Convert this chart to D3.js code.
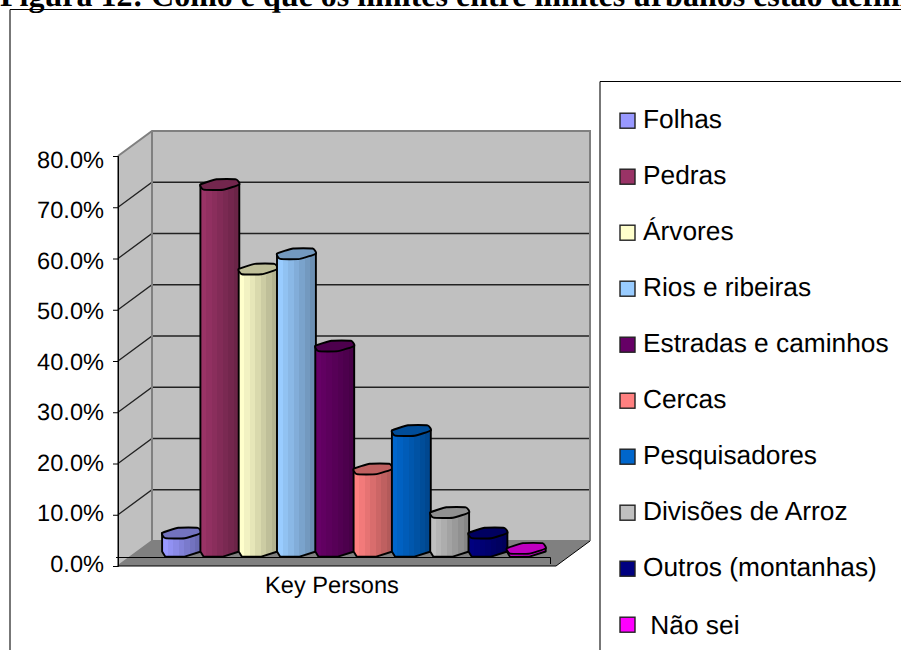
<!DOCTYPE html>
<html><head><meta charset="utf-8">
<script src="https://cdn.jsdelivr.net/npm/d3@7/dist/d3.min.js"></script>
<style>html,body{margin:0;padding:0;background:#fff;overflow:hidden}svg{display:block}
text{font-family:"Liberation Sans",Arial,sans-serif;fill:#000;text-rendering:geometricPrecision}</style></head><body>
<svg id="c" width="901" height="650"></svg>
<script>
const categories=["Folhas","Pedras","Árvores","Rios e ribeiras","Estradas e caminhos","Cercas","Pesquisadores","Divisões de Arroz","Outros (montanhas)"," Não sei"];
const values=[4,72,55.5,58.5,40.5,16.5,24,8,4,1];
const colors=["#9999FF","#993366","#FFFFCC","#99CCFF","#660066","#FF8080","#0066CC","#C0C0C0","#000080","#FF00FF"];
const yTicks=[0,10,20,30,40,50,60,70,80];
const axisLabel="Key Persons";
const title="Figura 12: Como é que os limites entre limites urbanos estão definidos";

const svg=d3.select("#c");
const defs=svg.append("defs");
const front={x0:118,x1:556,y0:566,y1:156}, depth={dx:34,dy:-25};
const y=d3.scaleLinear().domain([0,80]).range([front.y0,front.y1]);
const yLabel=d3.scaleLinear().domain([0,80]).range([564,160]);
const x=d3.scaleBand().domain(categories).range([162,545]).padding(0);
const line=d3.line();
const roundLine=d3.line().curve(d3.curveCardinalClosed.tension(0.55));

svg.append("text").attr("x",0).attr("y",6).attr("font-size",32).attr("font-weight","bold")
  .style("font-family","'Liberation Serif',serif").text(title);
// chart frame
svg.append("path").attr("d","M10,650V9.5H901").attr("fill","none").attr("stroke","#000").attr("stroke-width",1);
svg.append("path").attr("d","M10,650V10").attr("fill","none").attr("stroke","#777").attr("stroke-width",2);

// floor
svg.append("path").attr("d",line([[front.x0,front.y0],[front.x1,front.y0],[front.x1+depth.dx,front.y0+depth.dy],[front.x0+depth.dx,front.y0+depth.dy]])+"Z").attr("fill","#808080");
// walls
const bt=front.y1+depth.dy, bb=front.y0+depth.dy, bl=front.x0+depth.dx, br=front.x1+depth.dx;
svg.append("path").attr("d",line([[front.x0,front.y0],[bl,bb],[bl,bt],[front.x0,front.y1]])+"Z").attr("fill","#C0C0C0");
svg.append("rect").attr("x",bl).attr("y",bt).attr("width",br-bl).attr("height",bb-bt).attr("fill","#C0C0C0");
// gridlines
yTicks.slice(1,-1).forEach(t=>{
  svg.append("path").attr("d",line([[front.x0,y(t)],[bl,y(t)+depth.dy],[br,y(t)+depth.dy]])).attr("fill","none").attr("stroke","#222").attr("stroke-width",1.3);
});
// wall edges
svg.append("path").attr("d",line([[front.x0,front.y1],[bl,bt],[br,bt],[br,bb]])).attr("fill","none").attr("stroke","#808080").attr("stroke-width",2);
svg.append("path").attr("d",line([[bl,bt],[bl,bb],[front.x0,front.y0]])).attr("fill","none").attr("stroke","#808080").attr("stroke-width",2);
svg.append("path").attr("d",line([[bl,bb],[br,bb]])).attr("fill","none").attr("stroke","#808080").attr("stroke-width",2);
// axis
svg.append("path").attr("d",line([[front.x0,front.y1],[front.x0,front.y0],[front.x1,front.y0],[front.x1+depth.dx,front.y0+depth.dy]])).attr("fill","none").attr("stroke","#000").attr("stroke-width",1);
// base plate outline
svg.append("path").attr("d",line([[front.x0-2,557.5],[550.5,557.5],[550.5,564]])).attr("fill","none").attr("stroke","#000").attr("stroke-width",1);
const yAxis=d3.axisLeft(y).tickValues(yTicks).tickFormat(d=>d.toFixed(1)+"%").tickSize(5).tickPadding(9);
const ag=svg.append("g").attr("transform",`translate(${front.x0},0)`).call(yAxis);
ag.select(".domain").attr("stroke","#000");
ag.selectAll("text").attr("font-size",23.6).style("font-family","'Liberation Sans',Arial,sans-serif").attr("fill","#000")
  .attr("dy",null).attr("dominant-baseline","central")
  .attr("y",d=>yLabel(d)-y(d));

// cylinders: rounded hexagonal oblique section as in the source rendering
const floorOff=12.5, skew=7.5, dy=6, sides=6, sw=1.9;
function ring(cx,cy,r){return d3.range(sides).map(i=>{const t=i/sides*2*Math.PI;
  return [cx+(r+.3)*Math.cos(t)-skew*Math.sin(t), cy+dy*Math.sin(t)];});}
categories.forEach((c,i)=>{
  const col=d3.color(colors[i]);
  const gid="g"+i;
  const g=defs.append("linearGradient").attr("id",gid);
  const n=7;
  d3.range(n).forEach(k=>{
    const f=1-0.3*k/(n-1), cc=d3.rgb(col.r*f,col.g*f,col.b*f).formatHex();
    g.append("stop").attr("offset",k/n).attr("stop-color",cc);
    g.append("stop").attr("offset",(k+1)/n).attr("stop-color",cc);
  });
  const r=x.bandwidth()/2, cx=x(c)+r+.4;
  const yb=y(0)-floorOff-2, yt=y(values[i])-floorOff;
  const top=ring(cx,yt,r), bot=ring(cx,yb,r);
  const le=d3.least(top,p=>p[0]), re=d3.greatest(top,p=>p[0]);
  const lower=bot.filter(p=>p[1]>yb).sort((a,b)=>a[0]-b[0]);
  const body=[[le[0],le[1]],[le[0],yb],...lower,[re[0],yb],[re[0],re[1]]];
  svg.append("path").attr("d",line(body)+"Z").attr("fill",`url(#${gid})`).attr("stroke","#000").attr("stroke-width",sw).attr("stroke-linejoin","round");
  svg.append("path").attr("d",roundLine(top)).attr("fill",d3.rgb(col.r*.75,col.g*.75,col.b*.75).formatHex()).attr("stroke","#000").attr("stroke-width",sw).attr("stroke-linejoin","round");
});

svg.append("text").attr("x",332).attr("y",593).attr("text-anchor","middle").attr("font-size",23.6).text(axisLabel);

// legend
svg.append("path").attr("d","M600,650V81.5H901").attr("fill","#fff").attr("stroke","#000").attr("stroke-width",1);
svg.append("path").attr("d","M600,650V82").attr("fill","none").attr("stroke","#777").attr("stroke-width",2);
const ly=d3.scalePoint().domain(categories).range([120.7,624.7]);
categories.forEach((c,i)=>{
  svg.append("rect").attr("x",620).attr("y",ly(c)-7.5).attr("width",15).attr("height",15).attr("fill",colors[i]).attr("stroke","#222").attr("stroke-width",1.4);
  const last=i===categories.length-1;
  svg.append("text").attr("x",643).attr("y",ly(c)+7.3+(last?2:0)).attr("font-size",26.3).style("white-space","pre").text(c);
});
</script></body></html>
